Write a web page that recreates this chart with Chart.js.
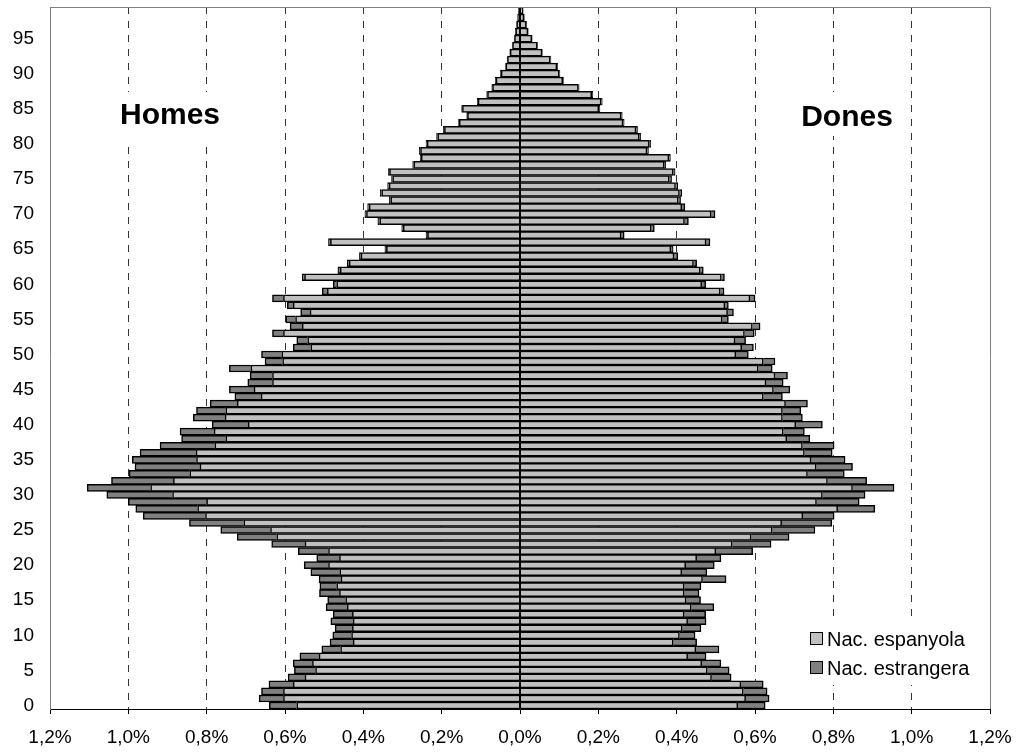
<!DOCTYPE html>
<html>
<head>
<meta charset="utf-8">
<script src="https://cdn.jsdelivr.net/npm/chart.js@4/dist/chart.umd.min.js"></script>
<style>
  body { margin: 0; background: #fff; }
  #wrap { width: 1018px; height: 755px; }
</style>
</head>
<body>
<div id="wrap"><canvas id="myChart" width="1018" height="755"></canvas></div>
<script>
// ages 0..99
const ages = [];
for (let a = 0; a < 100; a++) ages.push(String(a));

// % of total population
const menEsp = [
  .570, .604, .604, .579, .549, .522, .530, .513, .458, .426,
  .430, .428, .426, .428, .441, .445, .461, .468, .457, .460,
  .489, .461, .489, .549, .621, .637, .705, .803, .823, .800,
  .887, .943, .885, .843, .817, .826, .827, .779, .751, .781,
  .694, .753, .751, .722, .661, .679, .632, .632, .687, .606,
  .608, .534, .542, .604, .556, .573, .536, .579, .604, .492,
  .468, .550, .459, .436, .406, .341, .484, .236, .298, .358,
  .392, .385, .330, .353, .334, .325, .333, .271, .252, .254,
  .237, .210, .193, .155, .134, .147, .107, .083, .070, .061,
  .048, .036, .032, .025, .019, .014, .011, .008, .005, .003
];
const menEstr = [
  .070, .062, .056, .062, .043, .054, .049, .049, .048, .059,
  .048, .044, .057, .049, .054, .046, .051, .043, .056, .074,
  .062, .058, .077, .085, .101, .127, .139, .159, .158, .200,
  .168, .162, .158, .155, .166, .164, .143, .140, .113, .087,
  .092, .081, .075, .069, .067, .063, .063, .057, .055, .045,
  .052, .045, .028, .028, .031, .025, .024, .015, .028, .013,
  .009, .006, .006, .005, .004, .004, .005, .004, .004, .005,
  .004, .004, .004, .004, .004, .003, .003, .003, .003, .003,
  .003, .003, .003, .002, .002, .002, .002, .002, .002, .002,
  .002, .001, .001, .001, .001, .001, .001, .001, .001, .001
];
const womenEsp = [
  .556, .576, .570, .564, .489, .478, .464, .428, .449, .391,
  .407, .414, .428, .419, .437, .424, .419, .419, .466, .413,
  .423, .451, .500, .542, .590, .644, .668, .722, .811, .757,
  .772, .849, .785, .734, .756, .743, .726, .721, .681, .672,
  .704, .670, .670, .678, .621, .647, .628, .651, .608, .621,
  .551, .566, .549, .573, .593, .516, .530, .523, .587, .511,
  .464, .514, .460, .443, .393, .385, .475, .258, .335, .420,
  .488, .413, .404, .407, .397, .381, .391, .368, .380, .324,
  .330, .304, .296, .263, .258, .201, .207, .183, .149, .109,
  .100, .094, .077, .056, .044, .030, .020, .016, .010, .007
];
const womenEstr = [
  .070, .060, .061, .057, .050, .056, .049, .047, .059, .060,
  .040, .048, .047, .055, .058, .037, .038, .043, .060, .064,
  .073, .062, .094, .099, .097, .109, .128, .080, .095, .109,
  .109, .106, .100, .094, .093, .087, .071, .081, .059, .054,
  .068, .051, .047, .056, .049, .042, .044, .032, .036, .030,
  .032, .030, .027, .025, .020, .016, .015, .009, .013, .010,
  .010, .008, .008, .008, .010, .006, .010, .008, .008, .010,
  .010, .008, .006, .006, .006, .006, .005, .004, .004, .004,
  .004, .004, .004, .003, .003, .003, .003, .003, .002, .002,
  .002, .002, .002, .001, .001, .001, .001, .001, .001, .001
];

const seriesNames = ["Nac. espanyola", "Nac. estrangera"];
const seriesColors = ["#C0C0C0", "#808080"];
const sideLabels = ["Homes", "Dones"];

const FONT = "'Liberation Sans', Arial, sans-serif";

const fmtPct = v => Math.abs(v).toFixed(1).replace(".", ",") + "%";

// extra drawing: center line, frame, side labels, legend
const decor = {
  id: "decor",
  afterDatasetsDraw(chart) {
    const {ctx, chartArea: ca, scales} = chart;
    const x0 = scales.x.getPixelForValue(0);
    ctx.save();
    ctx.strokeStyle = "#000";
    ctx.lineWidth = 2;
    ctx.beginPath();
    ctx.moveTo(x0, ca.top);
    ctx.lineTo(x0, ca.bottom);
    ctx.stroke();
    ctx.restore();
  },
  afterDraw(chart) {
    const {ctx, chartArea: ca} = chart;
    ctx.save();
    // top + right frame
    ctx.strokeStyle = "#808080";
    ctx.lineWidth = 1;
    ctx.beginPath();
    ctx.moveTo(ca.left, ca.top + 0.5);
    ctx.lineTo(ca.right + 0.5, ca.top + 0.5);
    ctx.lineTo(ca.right + 0.5, ca.bottom);
    ctx.stroke();

    // Homes / Dones
    ctx.fillStyle = "#fff";
    ctx.fillRect(118, 92, 104, 48);
    ctx.fillRect(799, 92, 98, 44);
    ctx.fillStyle = "#000";
    ctx.font = "bold 30px " + FONT;
    ctx.textAlign = "center";
    ctx.textBaseline = "middle";
    ctx.fillText(sideLabels[0], 170, 116);
    ctx.fillText(sideLabels[1], 847, 118);

    // legend
    ctx.fillStyle = "#fff";
    ctx.fillRect(804, 623, 170, 62);
    ctx.font = "20px " + FONT;
    ctx.textAlign = "left";
    const rows = [639, 668];
    seriesNames.forEach((name, i) => {
      const y = rows[i];
      ctx.fillStyle = seriesColors[i];
      ctx.fillRect(810.5, y - 6.5, 12, 12);
      ctx.strokeStyle = "#000";
      ctx.lineWidth = 1;
      ctx.strokeRect(810.5, y - 6.5, 12, 12);
      ctx.fillStyle = "#000";
      ctx.fillText(name, 827, y + 1);
    });
    ctx.restore();
  }
};

const barStyle = {
  borderColor: "#000",
  borderWidth: 1.5,
  barPercentage: 1,
  categoryPercentage: 1
};

const data = {
  labels: ages,
  datasets: [
    Object.assign({label: seriesNames[0] + " H", data: menEsp.map(v => -v), backgroundColor: seriesColors[0]}, barStyle),
    Object.assign({label: seriesNames[1] + " H", data: menEstr.map(v => -v), backgroundColor: seriesColors[1]}, barStyle),
    Object.assign({label: seriesNames[0] + " D", data: womenEsp, backgroundColor: seriesColors[0]}, barStyle),
    Object.assign({label: seriesNames[1] + " D", data: womenEstr, backgroundColor: seriesColors[1]}, barStyle)
  ]
};

const config = {
  type: "bar",
  data: data,
  plugins: [decor],
  options: {
    indexAxis: "y",
    responsive: false,
    animation: false,
    devicePixelRatio: 1,
    layout: {padding: {top: 7, right: 28, left: 0, bottom: 0}},
    plugins: {legend: {display: false}, tooltip: {enabled: false}},
    scales: {
      x: {
        stacked: true,
        min: -1.2,
        max: 1.2,
        ticks: {
          stepSize: 0.2,
          color: "#000",
          padding: 12,
          font: {family: FONT, size: 19},
          callback: v => fmtPct(v)
        },
        grid: {
          color: c => (c.tick && (Math.abs(c.tick.value) < 1e-9 || Math.abs(c.tick.value) > 1.19)) ? "rgba(0,0,0,0)" : "#333",
          lineWidth: 1,
          tickColor: "#000",
          tickLength: 5
        },
        border: {color: "#000", width: 1, dash: [7, 7]},
        afterFit: s => { s.height = 46; s.paddingLeft = 0; s.paddingRight = 0; }
      },
      y: {
        stacked: true,
        reverse: true,
        ticks: {
          autoSkip: false,
          color: "#000",
          padding: 16,
          font: {family: FONT, size: 19},
          callback: (v, i) => (i % 5 === 0 ? ages[i] : "")
        },
        grid: {display: false, drawTicks: false},
        border: {color: "#808080", width: 1},
        afterFit: s => { s.width = 50; s.paddingTop = 0; s.paddingBottom = 0; }
      }
    }
  }
};

const myChart = new Chart(document.getElementById("myChart"), config);
</script>
</body>
</html>
